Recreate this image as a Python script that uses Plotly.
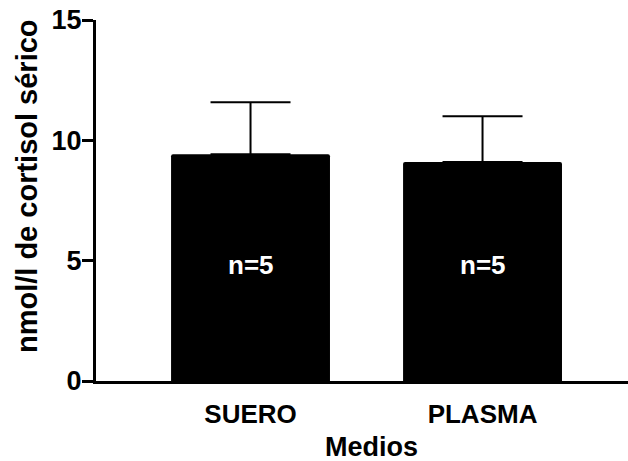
import plotly.graph_objects as go

categories = ["SUERO", "PLASMA"]
means = [9.42, 9.10]
sem = [2.16, 1.90]
n_labels = ["n=5", "n=5"]
y_ticks = [0, 5, 10, 15]

FONT = "Liberation Sans, Arial, sans-serif"

fig = go.Figure()
fig.add_trace(go.Bar(
    x=categories, y=means, width=0.685,
    marker=dict(color="black", line=dict(width=0), cornerradius=2),
    error_y=dict(type="data", array=sem, arrayminus=[0, 0], symmetric=False,
                 color="black", thickness=2, width=40),
    showlegend=False,
))

for c, lab in zip(categories, n_labels):
    fig.add_annotation(x=c, y=4.8, text=lab, showarrow=False,
                       font=dict(family=FONT, size=26, color="white", weight="bold"),
                       xanchor="center", yanchor="middle")

fig.add_annotation(xref="paper", yref="paper", x=-0.1297, y=0.54,
                   text="nmol/l de cortisol sérico", textangle=-90, showarrow=False,
                   font=dict(family=FONT, size=29, color="black", weight="bold"),
                   xanchor="center", yanchor="middle")
fig.add_annotation(xref="paper", yref="paper", x=0.517, y=-0.183,
                   text="Medios", showarrow=False,
                   font=dict(family=FONT, size=27, color="black", weight="bold"),
                   xanchor="center", yanchor="middle")

fig.update_layout(
    width=628, height=461,
    margin=dict(l=96, r=0, t=20, b=80),
    plot_bgcolor="white", paper_bgcolor="white",
    font=dict(family=FONT, color="black"),
    xaxis=dict(range=[-0.666, 1.627], showline=True, linecolor="black", linewidth=3,
               ticks="", showgrid=False, zeroline=False,
               tickfont=dict(family=FONT, size=26, color="black", weight="bold"),
               ticklabelstandoff=8),
    yaxis=dict(range=[0, 15], tickvals=y_ticks, showline=True, linecolor="black",
               linewidth=3, ticks="outside", ticklen=11, tickwidth=3, tickcolor="black",
               showgrid=False, zeroline=False, ticklabelstandoff=-5,
               tickfont=dict(family=FONT, size=27, color="black", weight="bold")),
)

fig.write_html("out.html")
